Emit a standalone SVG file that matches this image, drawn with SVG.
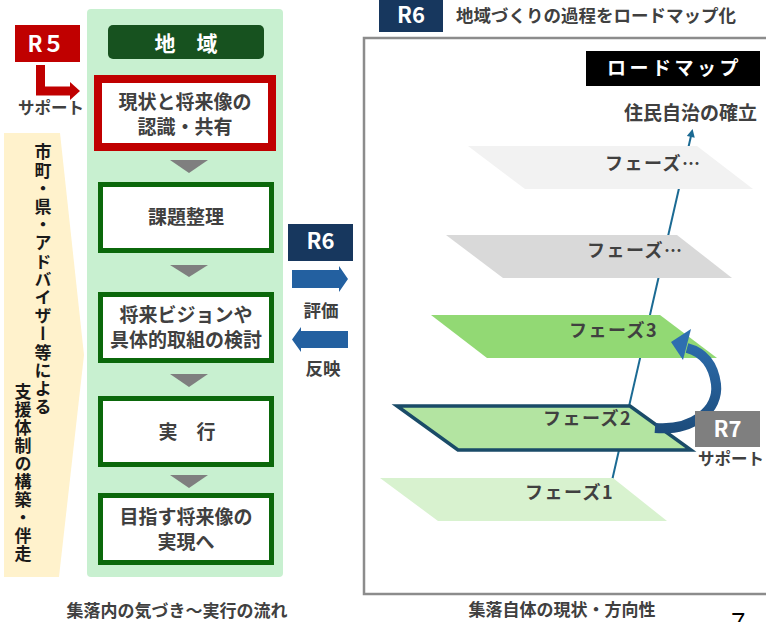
<svg xmlns="http://www.w3.org/2000/svg" width="766" height="622" viewBox="0 0 766 622">
<style>
text{font-family:"Noto Sans CJK JP","Noto Sans",sans-serif;font-weight:bold}
.g{fill:#404040}
.w{fill:#ffffff}
.step{fill:#ffffff;stroke:#0B680B;stroke-width:5}
.box{font-size:19px;text-anchor:middle}
.tri{fill:#7F7F7F}
.ph{font-size:18px;letter-spacing:1.5px}
.vt{font-size:17px;fill:#1a1a1a;writing-mode:vertical-rl}
.cap{font-size:17px;text-anchor:middle}
.rl{font-size:22px;text-anchor:middle;fill:#fff}
</style>
<defs>
<marker id="ah" viewBox="0 0 10 10" refX="1" refY="5" markerWidth="9" markerHeight="8" markerUnits="userSpaceOnUse" orient="auto"><path d="M0,0 L10,5 L0,10 z" fill="#1B6A93"/></marker>
<linearGradient id="cg" gradientUnits="userSpaceOnUse" x1="0" y1="335" x2="0" y2="435"><stop offset="0" stop-color="#2E6FB0"/><stop offset="1" stop-color="#1C4B7A"/></linearGradient>
</defs>

<!-- left support band -->
<g id="support">
<polygon points="4,133 60,133 84,355 59,577 4,577" fill="#FFF2CC"/>
<text class="vt" x="43" y="143.5" style="letter-spacing:1.2px">市町・県・アドバイザー等による</text>
<text class="vt" x="23" y="383.5" style="letter-spacing:0.9px">支援体制の構築・伴走</text>
</g>

<!-- green panel -->
<g id="panel">
<rect x="87" y="9" width="196" height="568" rx="4" fill="#C8F0D0"/>
</g>
<g id="chiiki">
<rect x="108" y="25" width="156" height="34" rx="5" fill="#17521F"/>
<text class="w" x="186" y="50.5" font-size="21" text-anchor="middle">地　域</text>
</g>

<g id="step1">
<rect x="98" y="79" width="174" height="68" fill="#fff" stroke="#C00000" stroke-width="8"/>
<text class="g box" x="185" y="108.5">現状と将来像の</text>
<text class="g box" x="185" y="133.5">認識・共有</text>
</g>
<g id="step2">
<rect class="step" x="100.5" y="184.5" width="171" height="66"/>
<text class="g box" x="186" y="224">課題整理</text>
</g>
<g id="step3">
<rect class="step" x="100.5" y="294.5" width="171" height="66"/>
<text class="g box" x="186" y="322">将来ビジョンや</text>
<text class="g box" x="186" y="347">具体的取組の検討</text>
</g>
<g id="step4">
<rect class="step" x="100.5" y="398.5" width="171" height="66"/>
<text class="g box" x="187" y="438.5" font-size="20">実　行</text>
</g>
<g id="step5">
<rect class="step" x="100.5" y="495.5" width="171" height="67"/>
<text class="g box" x="186" y="524">目指す将来像の</text>
<text class="g box" x="186" y="549">実現へ</text>
</g>

<g id="r5">
<rect x="15" y="25" width="65" height="37" fill="#C00000"/>
<text class="rl" x="46" y="52" font-size="22">R５</text>
<text class="g" x="51" y="114" font-size="16.5" text-anchor="middle">サポート</text>
</g>

<!-- roadmap frame -->
<g id="roadmap">
<rect x="364" y="38" width="430" height="556" fill="#fff" stroke="#8C8C8C" stroke-width="2.5"/>
<rect x="586" y="51" width="174" height="35" fill="#000"/>
<text class="w" x="607" y="75" font-size="19" style="letter-spacing:3.5px">ロードマップ</text>
<text class="g" x="624" y="119.5" font-size="19">住民自治の確立</text>
</g>

<g id="r6-title">
<rect x="379" y="0" width="64" height="32" fill="#17375E"/>
<text class="rl" x="411" y="23">R6</text>
<text class="g" x="456" y="21.5" font-size="17.5">地域づくりの過程をロードマップ化</text>
</g>

<g id="connectors">
<polygon class="tri" points="170,160 208,160 189,173"/>
<polygon class="tri" points="170,265 208,265 189,277"/>
<polygon class="tri" points="170,374 208,374 189,387"/>
<polygon class="tri" points="170,475 208,475 189,488"/>
<path d="M40.5,65 V91 H72" fill="none" stroke="#C00000" stroke-width="9"/>
<polygon points="70,82 80,91 70,100" fill="#C00000"/>
<polygon points="292,270 339,270 339,266 348,279 339,292 339,288 292,288" fill="#2360A0"/>
<polygon points="348,331 301,331 301,327 292,339.5 301,352 301,348 348,348" fill="#2360A0"/>
<path d="M611,485 L691,136" fill="none" stroke="#1B6A93" stroke-width="2" marker-end="url(#ah)"/>
</g>

<g id="r6-mid">
<rect x="288" y="224" width="65" height="37" fill="#17375E"/>
<text class="rl" x="320.5" y="248.5">R6</text>
<text class="g" x="321" y="316.5" font-size="17.5" text-anchor="middle">評価</text>
<text class="g" x="323" y="375" font-size="17.5" text-anchor="middle">反映</text>
</g>

<g id="phase-top">
<polygon points="468,146 697,146 753,189 525,189" fill="#F2F2F2"/>
<text class="g ph" x="605" y="170">フェーズ…</text>
</g>
<g id="phase-next">
<polygon points="446,235 677,235 732,278 503,278" fill="#D9D9D9"/>
<text class="g ph" x="587" y="257">フェーズ…</text>
</g>
<g id="phase3">
<polygon points="431,315 660,315 717,358 487,358" fill="#92D974"/>
<text class="g ph" x="569" y="337">フェーズ3</text>
</g>
<g id="phase1">
<polygon points="380,478 613,478 667,521 438,521" fill="#D8F2CF"/>
<text class="g ph" x="525" y="499">フェーズ1</text>
</g>
<g id="phase2">
<polygon points="397,406 630,406 691,450 458,450" fill="#B3E4A1" stroke="#1A4B68" stroke-width="3.5"/>
<text class="g ph" x="543" y="425">フェーズ2</text>
</g>

<g id="cycle">
<path d="M655,428 C693,431 719,410 716,384 C713,362 702,352 687,348" fill="none" stroke="url(#cg)" stroke-width="10"/>
<polygon points="671,342 691,329 683,360" fill="#2E6FB0"/>
</g>

<g id="r7">
<rect x="695" y="411" width="65" height="36" fill="#7F7F7F"/>
<text class="rl" x="727.5" y="437">R7</text>
<text class="g" x="731" y="465" font-size="16.5" text-anchor="middle">サポート</text>
</g>

<g id="captions">
<text class="g cap" x="177" y="617">集落内の気づき～実行の流れ</text>
<text class="g cap" x="562" y="615.5">集落自体の現状・方向性</text>
<text x="731" y="631" font-size="26" style="font-family:'Liberation Sans',sans-serif;font-weight:normal" fill="#000">7</text>
</g>
</svg>
